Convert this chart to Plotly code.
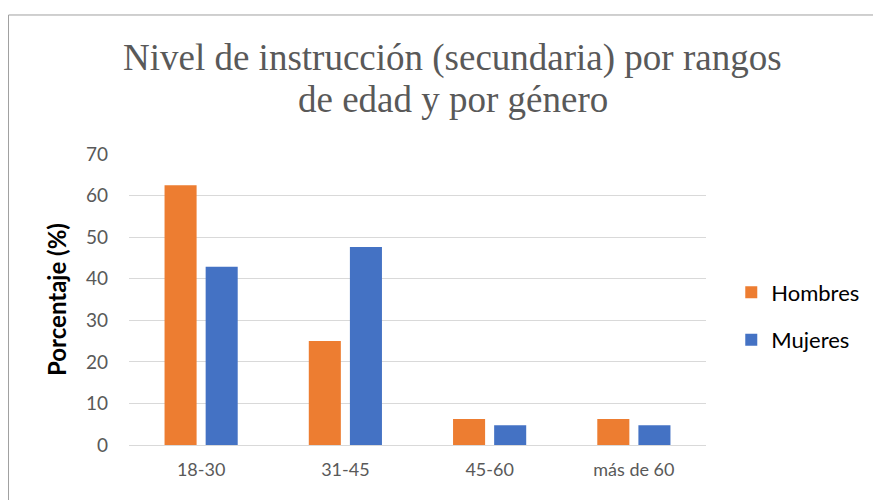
import plotly.graph_objects as go

# Data
categorias = ['18-30', '31-45', '45-60', 'más de 60']
hombres = [62.5, 25.0, 6.25, 6.25]
mujeres = [42.9, 47.6, 4.76, 4.76]

titulo = ['Nivel de instrucción (secundaria) por rangos', 'de edad y por género']

naranja = '#ED7D31'
azul = '#4472C4'
gris = '#595959'

fig = go.Figure()

fig.add_trace(go.Bar(
    x=categorias, y=hombres, name='Hombres',
    marker=dict(color=naranja, line=dict(width=0)),
    legendgroup='h'
))
fig.add_trace(go.Bar(
    x=categorias, y=mujeres, name='Mujeres',
    marker=dict(color=azul, line=dict(width=0)),
    legendgroup='m'
))

# chart border (like the Excel chart frame)
fig.add_shape(
    type='rect', xref='paper', yref='paper',
    x0=-0.2088, x1=1.35, y0=-0.25, y1=1.4777,
    line=dict(color='#A0A0A0', width=1), fillcolor='rgba(0,0,0,0)',
    layer='below'
)

# two-line title, drawn as annotations to control the line spacing
for texto, yy in zip(titulo, [1.331, 1.187]):
    fig.add_annotation(
        text=texto, xref='paper', yref='paper',
        x=0.5607, y=yy, xanchor='center', yanchor='middle',
        showarrow=False,
        font=dict(family='Liberation Serif', size=37, color=gris)
    )

# the page body has an 8px margin, so the figure is 8px smaller and shifted
fig.update_layout(
    width=873, height=492,
    margin=dict(l=121, r=175, t=146, b=55),
    paper_bgcolor='white',
    plot_bgcolor='white',
    barmode='group',
    bargap=0.43,
    bargroupgap=0.22,
    font=dict(family='Lato', color=gris),
    xaxis=dict(
        showgrid=False, showline=False, zeroline=False,
        tickfont=dict(family='Lato', size=18, color=gris),
        ticklabelstandoff=12
    ),
    yaxis=dict(
        range=[0, 70], dtick=10,
        showgrid=True, gridcolor='#D9D9D9', gridwidth=1,
        zeroline=True, zerolinecolor='#D9D9D9', zerolinewidth=1,
        showline=False,
        tickfont=dict(family='Lato', size=19, color=gris),
        ticklabelstandoff=20,
        title=dict(text='<b>Porcentaje (%)</b>',
                   font=dict(family='Lato', size=24, color='black'),
                   standoff=12)
    ),
    legend=dict(
        x=1.0438, xanchor='left', y=0.442, yanchor='middle',
        font=dict(family='Lato', size=22, color='black'),
        tracegroupgap=16,
        bgcolor='rgba(0,0,0,0)'
    ),
    showlegend=True
)

fig.write_html('out.html')
